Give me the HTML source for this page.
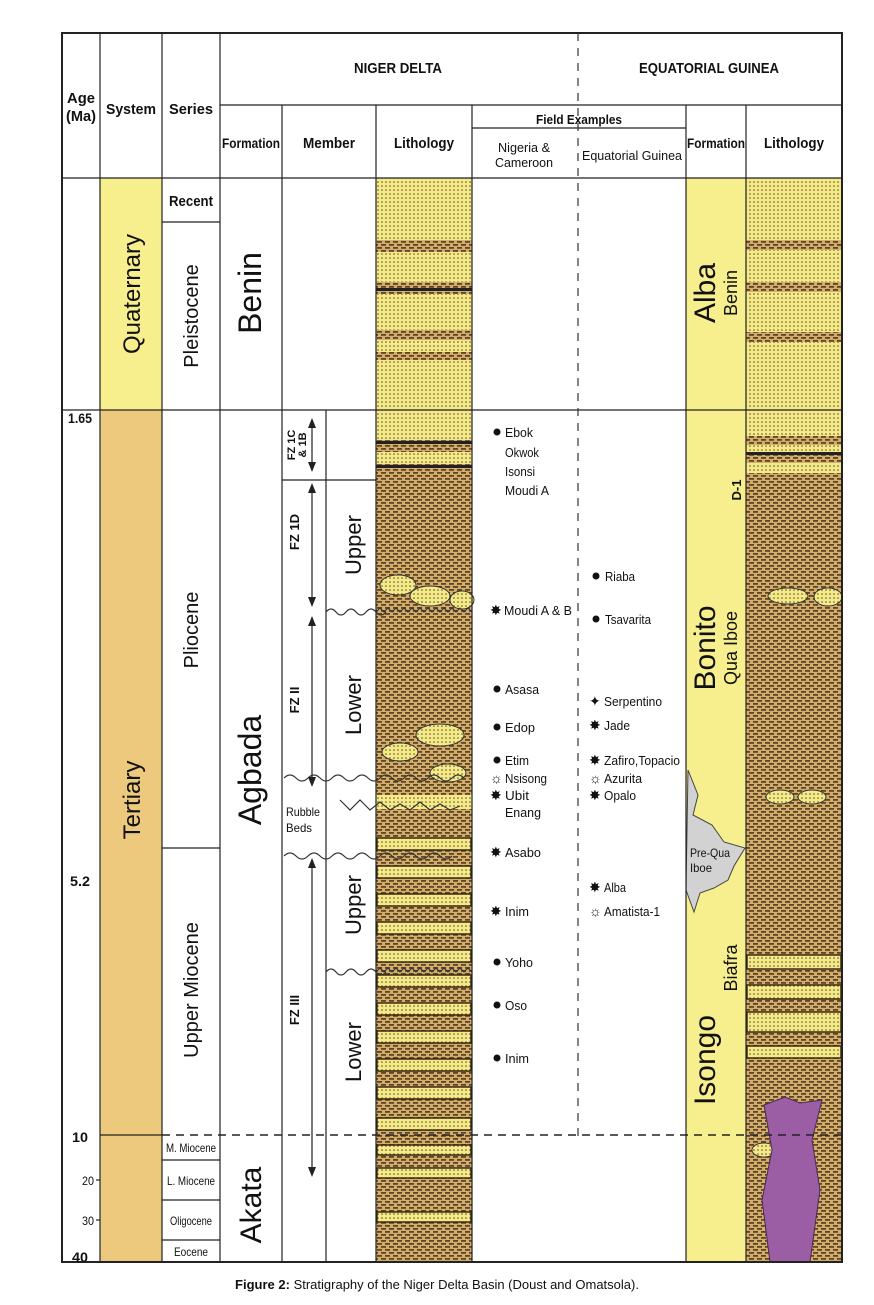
<!DOCTYPE html>
<html><head><meta charset="utf-8"><style>
html,body{margin:0;padding:0;background:#fff;}
svg{display:block;font-family:"Liberation Sans",Arial,sans-serif;}
</style></head><body>
<svg width="874" height="1305" viewBox="0 0 874 1305" xmlns="http://www.w3.org/2000/svg">
<defs>
<pattern id="sand" width="4" height="4" patternUnits="userSpaceOnUse">
<rect width="4" height="4" fill="#f5ea8a"/><circle cx="2" cy="2" r="0.8" fill="#5e4f1c"/>
</pattern>
<pattern id="shale" width="8" height="6" patternUnits="userSpaceOnUse">
<rect width="8" height="6" fill="#d2ad6c"/><rect x="1" y="1" width="5" height="1.8" fill="#5f4524"/><rect x="-3" y="4" width="5" height="1.8" fill="#5f4524"/><rect x="5" y="4" width="5" height="1.8" fill="#5f4524"/>
</pattern>
</defs>

<rect x="100" y="178" width="62" height="232" fill="#f7ee8e"/>
<rect x="100" y="410" width="62" height="852" fill="#ecc97d"/>
<rect x="686" y="178" width="60" height="1084" fill="#f7ee8e"/>

<g>
<rect x="376" y="178" width="96" height="1084" fill="url(#shale)"/>
<rect x="376" y="178" width="96" height="62" fill="url(#sand)"/>
<rect x="376" y="252" width="96" height="30" fill="url(#sand)"/>
<rect x="376" y="294" width="96" height="36" fill="url(#sand)"/>
<rect x="376" y="340" width="96" height="12" fill="url(#sand)"/>
<rect x="376" y="360" width="96" height="50" fill="url(#sand)"/>
<rect x="376" y="288" width="96" height="3" fill="#222"/>
<rect x="376" y="410" width="96" height="30" fill="url(#sand)"/>
<rect x="376" y="441" width="96" height="3" fill="#222"/>
<rect x="376" y="452" width="96" height="12" fill="url(#sand)"/>
<rect x="376" y="465" width="96" height="3" fill="#222"/>
<ellipse cx="398" cy="585" rx="18" ry="10" fill="url(#sand)" stroke="#333"/>
<ellipse cx="430" cy="596" rx="20" ry="10" fill="url(#sand)" stroke="#333"/>
<ellipse cx="462" cy="600" rx="12" ry="9" fill="url(#sand)" stroke="#333"/>
<ellipse cx="440" cy="735" rx="24" ry="11" fill="url(#sand)" stroke="#333"/>
<ellipse cx="400" cy="752" rx="18" ry="9" fill="url(#sand)" stroke="#333"/>
<ellipse cx="448" cy="773" rx="18" ry="9" fill="url(#sand)" stroke="#333"/>
<rect x="376" y="795" width="96" height="14" fill="url(#sand)"/>
<g fill="url(#sand)" stroke="#3a2a10" stroke-width="1.5">
<rect x="377" y="838" width="94" height="12"/><rect x="377" y="866" width="94" height="12"/>
<rect x="377" y="894" width="94" height="12"/><rect x="377" y="922" width="94" height="12"/>
<rect x="377" y="950" width="94" height="12"/><rect x="377" y="975" width="94" height="12"/>
<rect x="377" y="1003" width="94" height="12"/><rect x="377" y="1031" width="94" height="12"/>
<rect x="377" y="1059" width="94" height="12"/><rect x="377" y="1087" width="94" height="12"/>
<rect x="377" y="1118" width="94" height="12"/><rect x="377" y="1145" width="94" height="10"/>
<rect x="377" y="1168" width="94" height="10"/><rect x="377" y="1212" width="94" height="10"/>
</g>
<path d="M376 972 l4 -4 4 4 4 -4 4 4 4 -4 4 4 4 -4 4 4 4 -4 4 4 4 -4 4 4 4 -4 4 4 4 -4 4 4 4 -4 4 4 4 -4 4 4 4 -4 4 4 4 -4 4 4" fill="none" stroke="#333"/>
<path d="M376 612 l4 -4 4 4 4 -4 4 4 4 -4 4 4 4 -4 4 4 4 -4 4 4 4 -4 4 4 4 -4 4 4 4 -4 4 4 4 -4 4 4 4 -4 4 4 4 -4 4 4 4 -4 4 4" fill="none" stroke="#333"/>
</g>

<g>
<rect x="746" y="178" width="96" height="1084" fill="url(#shale)"/>
<rect x="746" y="178" width="96" height="62" fill="url(#sand)"/>
<rect x="746" y="250" width="96" height="32" fill="url(#sand)"/>
<rect x="746" y="292" width="96" height="40" fill="url(#sand)"/>
<rect x="746" y="342" width="96" height="68" fill="url(#sand)"/>
<rect x="746" y="410" width="96" height="26" fill="url(#sand)"/>
<rect x="746" y="445" width="96" height="10" fill="url(#sand)"/>
<rect x="746" y="452" width="96" height="3" fill="#222"/>
<rect x="746" y="463" width="96" height="10" fill="url(#sand)"/>
<ellipse cx="788" cy="596" rx="20" ry="8" fill="url(#sand)" stroke="#333"/>
<ellipse cx="828" cy="597" rx="14" ry="9" fill="url(#sand)" stroke="#333"/>
<ellipse cx="780" cy="797" rx="14" ry="7" fill="url(#sand)" stroke="#333"/>
<ellipse cx="812" cy="797" rx="14" ry="7" fill="url(#sand)" stroke="#333"/>
<g fill="url(#sand)" stroke="#3a2a10" stroke-width="1.5">
<rect x="747" y="955" width="94" height="14"/>
<rect x="747" y="985" width="94" height="14"/>
<rect x="747" y="1012" width="94" height="20"/>
<rect x="747" y="1046" width="94" height="12"/>
</g>
<ellipse cx="764" cy="1150" rx="12" ry="7" fill="url(#sand)" stroke="#333"/>
<polygon points="770,1262 762,1200 772,1150 764,1105 785,1097 800,1103 822,1100 812,1140 820,1190 810,1262" fill="#9b5ea4" stroke="#4a2a50"/>
</g>

<polygon points="688,770 698,795 693,815 712,825 724,842 745,848 734,866 728,880 714,888 700,893 694,912 686,890" fill="#d2d2d2" stroke="#444"/>

<g stroke="#222" stroke-width="2" fill="none">
<rect x="62" y="33" width="780" height="1229"/>
</g>
<g stroke="#222" stroke-width="1.2" fill="none">
<line x1="62" y1="178" x2="842" y2="178"/>
<line x1="220" y1="105" x2="842" y2="105"/>
<line x1="472" y1="128" x2="686" y2="128"/>
<line x1="100" y1="33" x2="100" y2="1262"/>
<line x1="162" y1="33" x2="162" y2="1262"/>
<line x1="220" y1="33" x2="220" y2="1262"/>
<line x1="282" y1="105" x2="282" y2="1262"/>
<line x1="376" y1="105" x2="376" y2="1262"/>
<line x1="472" y1="105" x2="472" y2="1262"/>
<line x1="686" y1="105" x2="686" y2="1262"/>
<line x1="746" y1="105" x2="746" y2="1262"/>
<line x1="62" y1="410" x2="842" y2="410"/>
<line x1="162" y1="222" x2="220" y2="222"/>
<line x1="162" y1="848" x2="220" y2="848"/>
<line x1="162" y1="1160" x2="220" y2="1160"/>
<line x1="162" y1="1200" x2="220" y2="1200"/>
<line x1="162" y1="1240" x2="220" y2="1240"/>
<line x1="326" y1="410" x2="326" y2="1262"/>
<line x1="282" y1="480" x2="326" y2="480"/>
<line x1="326" y1="480" x2="376" y2="480"/>
<line x1="96" y1="1180" x2="100" y2="1180"/>
<line x1="96" y1="1220" x2="100" y2="1220"/>
</g>
<line x1="578" y1="33" x2="578" y2="1140" stroke="#333" stroke-width="1.2" stroke-dasharray="8,7"/>
<line x1="162" y1="1135" x2="842" y2="1135" stroke="#222" stroke-width="1.5" stroke-dasharray="8,6"/>
<line x1="100" y1="1135" x2="162" y2="1135" stroke="#222" stroke-width="1.2"/>

<g stroke="#333" fill="none" stroke-width="1.2">
<path d="M326 612 q5 -6 10 0 t10 0 t10 0 t10 0 t10 0 t10 0"/>
<path d="M326 972 q5 -6 10 0 t10 0 t10 0 t10 0 t10 0 t10 0"/>
<path d="M284 778 q6 -6 12 0 t12 0 t12 0 t12 0 t12 0 t12 0 t12 0 t12 0 t12 0 t12 0 t12 0 t12 0 t12 0 t12 0 t12 0"/>
<path d="M284 856 q6 -6 12 0 t12 0 t12 0 t12 0 t12 0 t12 0 t12 0 t12 0 t12 0 t12 0 t12 0 t12 0 t12 0 t12 0"/>
<path d="M340 800 l10 10 10 -10 10 10 10 -8 10 8 10 -6 10 6 10 -8 10 8 10 -6 10 6 10 -4"/>
</g>

<g stroke="#222" stroke-width="1.2">
<line x1="312" y1="420" x2="312" y2="470"/>
<line x1="312" y1="485" x2="312" y2="605"/>
<line x1="312" y1="618" x2="312" y2="785"/>
<line x1="312" y1="860" x2="312" y2="1175"/>
</g>
<g fill="#222">
<polygon points="308,428 312,418 316,428"/><polygon points="308,462 312,472 316,462"/>
<polygon points="308,493 312,483 316,493"/><polygon points="308,597 312,607 316,597"/>
<polygon points="308,626 312,616 316,626"/><polygon points="308,777 312,787 316,777"/>
<polygon points="308,868 312,858 316,868"/><polygon points="308,1167 312,1177 316,1167"/>
</g>

<g font-weight="bold" fill="#111">
<text x="81" y="103" font-size="15" text-anchor="middle" textLength="28" lengthAdjust="spacingAndGlyphs">Age</text>
<text x="81" y="121" font-size="15" text-anchor="middle" textLength="30" lengthAdjust="spacingAndGlyphs">(Ma)</text>
<text x="131" y="114" font-size="15" text-anchor="middle" textLength="50" lengthAdjust="spacingAndGlyphs">System</text>
<text x="191" y="114" font-size="15" text-anchor="middle" textLength="44" lengthAdjust="spacingAndGlyphs">Series</text>
<text x="398" y="73" font-size="15" text-anchor="middle" textLength="88" lengthAdjust="spacingAndGlyphs">NIGER DELTA</text>
<text x="709" y="73" font-size="15" text-anchor="middle" textLength="140" lengthAdjust="spacingAndGlyphs">EQUATORIAL GUINEA</text>
<text x="251" y="148" font-size="14" text-anchor="middle" textLength="58" lengthAdjust="spacingAndGlyphs">Formation</text>
<text x="329" y="148" font-size="15" text-anchor="middle" textLength="52" lengthAdjust="spacingAndGlyphs">Member</text>
<text x="424" y="148" font-size="15" text-anchor="middle" textLength="60" lengthAdjust="spacingAndGlyphs">Lithology</text>
<text x="579" y="124" font-size="13" text-anchor="middle" textLength="86" lengthAdjust="spacingAndGlyphs">Field Examples</text>
<text x="716" y="148" font-size="14" text-anchor="middle" textLength="58" lengthAdjust="spacingAndGlyphs">Formation</text>
<text x="794" y="148" font-size="15" text-anchor="middle" textLength="60" lengthAdjust="spacingAndGlyphs">Lithology</text>
</g>
<g fill="#111" font-size="13">
<text x="524" y="152" text-anchor="middle" textLength="52" lengthAdjust="spacingAndGlyphs">Nigeria &amp;</text>
<text x="524" y="167" text-anchor="middle" textLength="58" lengthAdjust="spacingAndGlyphs">Cameroon</text>
<text x="632" y="160" text-anchor="middle" textLength="100" lengthAdjust="spacingAndGlyphs">Equatorial Guinea</text>
</g>

<g font-size="14" font-weight="bold" fill="#111" text-anchor="middle">
<text x="80" y="423" textLength="24" lengthAdjust="spacingAndGlyphs">1.65</text>
<text x="80" y="886" textLength="20" lengthAdjust="spacingAndGlyphs">5.2</text>
<text x="80" y="1142" textLength="16" lengthAdjust="spacingAndGlyphs">10</text>
<text x="88" y="1185" font-size="12" font-weight="normal" textLength="12" lengthAdjust="spacingAndGlyphs">20</text>
<text x="88" y="1225" font-size="12" font-weight="normal" textLength="12" lengthAdjust="spacingAndGlyphs">30</text>
<text x="80" y="1262" textLength="16" lengthAdjust="spacingAndGlyphs">40</text>
</g>

<g font-size="12" fill="#111" text-anchor="middle">
<text x="191" y="206" font-size="15" font-weight="bold" textLength="44" lengthAdjust="spacingAndGlyphs">Recent</text>
<text x="191" y="1152" textLength="50" lengthAdjust="spacingAndGlyphs">M. Miocene</text>
<text x="191" y="1185" textLength="48" lengthAdjust="spacingAndGlyphs">L. Miocene</text>
<text x="191" y="1225" textLength="42" lengthAdjust="spacingAndGlyphs">Oligocene</text>
<text x="191" y="1256" textLength="34" lengthAdjust="spacingAndGlyphs">Eocene</text>
</g>

<g fill="#111" text-anchor="middle">
<text transform="translate(140,294) rotate(-90)" font-size="24">Quaternary</text>
<text transform="translate(140,800) rotate(-90)" font-size="24">Tertiary</text>
<text transform="translate(198,316) rotate(-90)" font-size="20">Pleistocene</text>
<text transform="translate(198,630) rotate(-90)" font-size="20">Pliocene</text>
<text transform="translate(198,990) rotate(-90)" font-size="20">Upper Miocene</text>
<text transform="translate(261,293) rotate(-90)" font-size="32">Benin</text>
<text transform="translate(261,770) rotate(-90)" font-size="32">Agbada</text>
<text transform="translate(261,1205) rotate(-90)" font-size="30">Akata</text>
<text transform="translate(361,545) rotate(-90)" font-size="22">Upper</text>
<text transform="translate(361,705) rotate(-90)" font-size="22">Lower</text>
<text transform="translate(361,905) rotate(-90)" font-size="22">Upper</text>
<text transform="translate(361,1052) rotate(-90)" font-size="22">Lower</text>
<text transform="translate(299,532) rotate(-90)" font-size="13" font-weight="bold">FZ 1D</text>
<text transform="translate(299,700) rotate(-90)" font-size="13" font-weight="bold">FZ II</text>
<text transform="translate(299,1010) rotate(-90)" font-size="13" font-weight="bold">FZ III</text>
<text transform="translate(295,445) rotate(-90)" font-size="11" font-weight="bold">FZ 1C</text>
<text transform="translate(306,445) rotate(-90)" font-size="11" font-weight="bold">&amp; 1B</text>
<text transform="translate(715,293) rotate(-90)" font-size="30">Alba</text>
<text transform="translate(737,293) rotate(-90)" font-size="18">Benin</text>
<text transform="translate(715,648) rotate(-90)" font-size="30">Bonito</text>
<text transform="translate(737,648) rotate(-90)" font-size="18">Qua Iboe</text>
<text transform="translate(741,490) rotate(-90)" font-size="13" font-weight="bold">D-1</text>
<text transform="translate(715,1060) rotate(-90)" font-size="30">Isongo</text>
<text transform="translate(737,968) rotate(-90)" font-size="18">Biafra</text>
</g>
<g font-size="12" fill="#111">
<text x="286" y="816" textLength="34" lengthAdjust="spacingAndGlyphs">Rubble</text>
<text x="286" y="832" textLength="26" lengthAdjust="spacingAndGlyphs">Beds</text>
<text x="690" y="857" textLength="40" lengthAdjust="spacingAndGlyphs">Pre-Qua</text>
<text x="690" y="872" textLength="22" lengthAdjust="spacingAndGlyphs">Iboe</text>
</g>

<g font-size="13" fill="#111">
<circle cx="497" cy="432" r="3.5"/><text x="505" y="437" textLength="28" lengthAdjust="spacingAndGlyphs">Ebok</text>
<text x="505" y="457" textLength="34" lengthAdjust="spacingAndGlyphs">Okwok</text>
<text x="505" y="476" textLength="30" lengthAdjust="spacingAndGlyphs">Isonsi</text>
<text x="505" y="495" textLength="44" lengthAdjust="spacingAndGlyphs">Moudi A</text>
<text x="490" y="615" font-size="14">✸</text><text x="504" y="615" textLength="68" lengthAdjust="spacingAndGlyphs">Moudi A &amp; B</text>
<circle cx="497" cy="689" r="3.5"/><text x="505" y="694" textLength="34" lengthAdjust="spacingAndGlyphs">Asasa</text>
<circle cx="497" cy="727" r="3.5"/><text x="505" y="732" textLength="30" lengthAdjust="spacingAndGlyphs">Edop</text>
<circle cx="497" cy="760" r="3.5"/><text x="505" y="765" textLength="24" lengthAdjust="spacingAndGlyphs">Etim</text>
<text x="490" y="783" font-size="14">☼</text><text x="505" y="783" textLength="42" lengthAdjust="spacingAndGlyphs">Nsisong</text>
<text x="490" y="800" font-size="14">✸</text><text x="505" y="800" textLength="24" lengthAdjust="spacingAndGlyphs">Ubit</text>
<text x="505" y="817" textLength="36" lengthAdjust="spacingAndGlyphs">Enang</text>
<text x="490" y="857" font-size="14">✸</text><text x="505" y="857" textLength="36" lengthAdjust="spacingAndGlyphs">Asabo</text>
<text x="490" y="916" font-size="14">✸</text><text x="505" y="916" textLength="24" lengthAdjust="spacingAndGlyphs">Inim</text>
<circle cx="497" cy="962" r="3.5"/><text x="505" y="967" textLength="28" lengthAdjust="spacingAndGlyphs">Yoho</text>
<circle cx="497" cy="1005" r="3.5"/><text x="505" y="1010" textLength="22" lengthAdjust="spacingAndGlyphs">Oso</text>
<circle cx="497" cy="1058" r="3.5"/><text x="505" y="1063" textLength="24" lengthAdjust="spacingAndGlyphs">Inim</text>

<circle cx="596" cy="576" r="3.5"/><text x="605" y="581" textLength="30" lengthAdjust="spacingAndGlyphs">Riaba</text>
<circle cx="596" cy="619" r="3.5"/><text x="605" y="624" textLength="46" lengthAdjust="spacingAndGlyphs">Tsavarita</text>
<text x="589" y="706" font-size="14">✦</text><text x="604" y="706" textLength="58" lengthAdjust="spacingAndGlyphs">Serpentino</text>
<text x="589" y="730" font-size="14">✸</text><text x="604" y="730" textLength="26" lengthAdjust="spacingAndGlyphs">Jade</text>
<text x="589" y="765" font-size="14">✸</text><text x="604" y="765" textLength="76" lengthAdjust="spacingAndGlyphs">Zafiro,Topacio</text>
<text x="589" y="783" font-size="14">☼</text><text x="604" y="783" textLength="38" lengthAdjust="spacingAndGlyphs">Azurita</text>
<text x="589" y="800" font-size="14">✸</text><text x="604" y="800" textLength="32" lengthAdjust="spacingAndGlyphs">Opalo</text>
<text x="589" y="892" font-size="14">✸</text><text x="604" y="892" textLength="22" lengthAdjust="spacingAndGlyphs">Alba</text>
<text x="589" y="916" font-size="14">☼</text><text x="604" y="916" textLength="56" lengthAdjust="spacingAndGlyphs">Amatista-1</text>
</g>

<text x="437" y="1289" font-size="13" text-anchor="middle" fill="#111"><tspan font-weight="bold">Figure 2:</tspan> Stratigraphy of the Niger Delta Basin (Doust and Omatsola).</text>
</svg>
</body></html>
